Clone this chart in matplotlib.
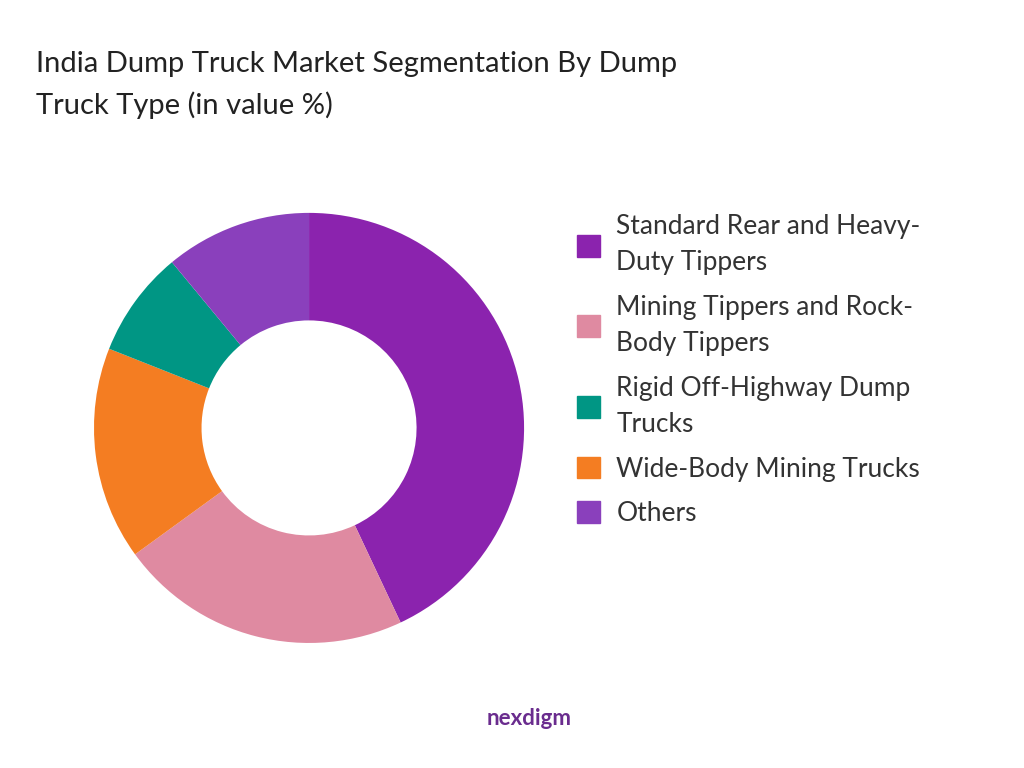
import matplotlib.pyplot as plt
from matplotlib.patches import Patch

plt.rcParams['font.family'] = ['Lato', 'DejaVu Sans']

labels = ['Standard Rear and Heavy-\nDuty Tippers', 'Mining Tippers and Rock-\nBody Tippers',
          'Rigid Off-Highway Dump\nTrucks', 'Wide-Body Mining Trucks', 'Others']
values = [43, 22, 8, 16, 11]
colors = ['#8B23AE', '#DF8AA1', '#009684', '#F47D22', '#8A40BC']
order = [0, 1, 3, 2, 4]  # drawing order clockwise from top

fig = plt.figure(figsize=(10.24, 7.68), dpi=100)
ax = fig.add_axes([0.0918, 0.1628, 0.42, 0.56])
ax.pie([values[i] for i in order], colors=[colors[i] for i in order],
       startangle=90, counterclock=False, wedgeprops=dict(width=0.5))
ax.set_xlim(-1, 1)
ax.set_ylim(-1, 1)
ax.set_aspect('equal')

fig.text(0.035, 0.933, 'India Dump Truck Market Segmentation By Dump\nTruck Type (in value %)',
         fontsize=21, va='top', linespacing=1.6, color='#222222')

handles = [Patch(color=c) for c in colors]
fig.legend(handles, labels, loc='upper left', bbox_to_anchor=(0.54, 0.752), frameon=False,
           fontsize=19, handlelength=0.9, handleheight=0.9, labelspacing=0.75,
           handletextpad=0.6, labelcolor='#333333')
for t in fig.legends[0].get_texts():
    t.set_linespacing(1.55)

fig.text(0.475, 0.065, 'nexdigm', fontsize=16, fontweight='bold', color='#6A2C8E', va='center')
fig.savefig('out.png')
